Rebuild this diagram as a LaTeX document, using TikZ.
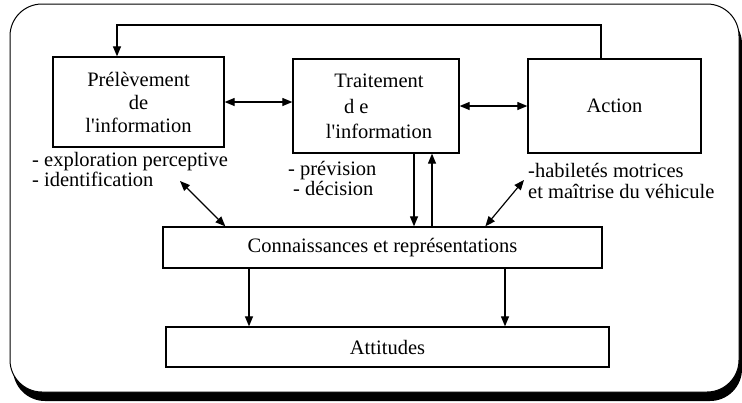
\documentclass[tikz,border=0pt]{standalone}
\usepackage{fontspec}
\setmainfont{Liberation Serif}
\usepackage{xcolor}
\usepackage{tikz}
\usetikzlibrary{arrows.meta,positioning,calc}

\begin{document}
\begin{tikzpicture}[x=1pt,y=-1pt,
  box/.style={draw,line width=1.3pt,align=center,inner sep=0pt,font=\fontsize{20.5}{23}\selectfont},
  note/.style={align=left,inner sep=0pt,anchor=base west,font=\fontsize{20.5}{20}\selectfont},
  arr/.style={line width=1.2pt,-{Triangle[length=10pt,width=8pt]}},
  dbl/.style={line width=1.2pt,{Triangle[length=10pt,width=8pt]}-{Triangle[length=10pt,width=8pt]}}]
\useasboundingbox (0,0) rectangle (742,402);
% cadre avec ombre
\fill[rounded corners=32pt] (13,12) rectangle (742,401);
\draw[line width=1pt,fill=white,rounded corners=32pt] (10,4) rectangle (739,392);

\node[box,minimum width=171pt,minimum height=90pt] (prel) at (138.5,102) {Prélèvement\\de\\l\textquotesingle information};
\node[box,minimum width=166pt,minimum height=94pt] (trait) at (376,106) {\hspace*{6pt}Traitement\\[3pt]\makebox[64pt][l]{d e}\\[2pt]\hspace*{6pt}l\textquotesingle information};
\node[box,minimum width=173pt,minimum height=94pt] (action) at (614.5,106) {Action};
\node[box,minimum width=439pt,minimum height=41pt] (conn) at (382.5,247.5) {Connaissances et représentations};
\node[box,minimum width=443pt,minimum height=40pt] (att) at (387.5,347) {Attitudes};

\node[note,font=\fontsize{20.5}{17}\selectfont] (expl) at (32,186) {- exploration perceptive\\- identification};
\node[note] (prev) at (288,195) {- prévision\\\hspace*{5pt}- décision};
\node[note,font=\fontsize{20.5}{21}\selectfont] (habi) at (528,198) {-habiletés motrices\\et maîtrise du véhicule};

\coordinate (fb) at (117,25);
\coordinate (lt) at (180,181);
\coordinate (rt) at (524,180);
\draw[arr] ([xshift=-13.5pt]action.north) |- (fb) -- (fb |- prel.north);
\draw[dbl] (prel.east) -- (prel.east -| trait.west);
\draw[dbl] (trait.east) -- (action.west);
\draw[arr] ([xshift=38pt]trait.south) -- ([xshift=38pt]trait.south |- conn.north);
\draw[arr] ([xshift=56pt]trait.south |- conn.north) -- ([xshift=56pt]trait.south);
\draw[dbl] (lt) -- ($(conn.north west)+(63,0)$);
\draw[dbl] (rt) -- ($(conn.north west)+(323,0)$);
\draw[arr] ([xshift=-133.5pt]conn.south) -- ([xshift=-133.5pt]conn.south |- att.north);
\draw[arr] ([xshift=122.5pt]conn.south) -- ([xshift=122.5pt]conn.south |- att.north);
\end{tikzpicture}
\end{document}
